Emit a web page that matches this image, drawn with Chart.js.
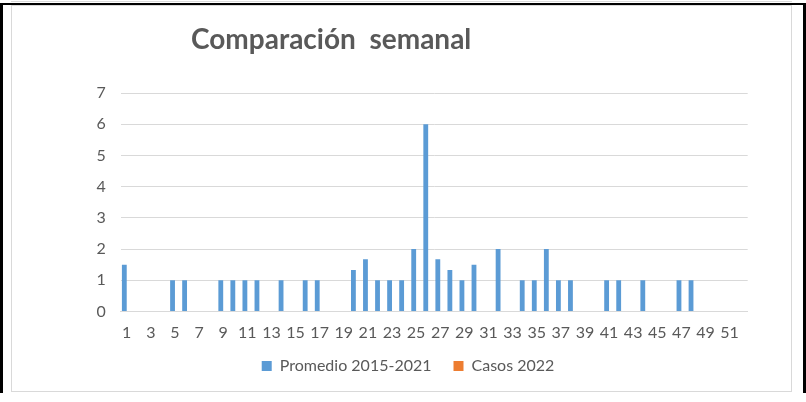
<!DOCTYPE html>
<html>
<head>
<meta charset="utf-8">
<script src="https://cdn.jsdelivr.net/npm/chart.js@4/dist/chart.umd.min.js"></script>
<style>
  html, body { margin: 0; padding: 0; background: #fff; }
  #page { position: relative; width: 806px; height: 402px; overflow: hidden; background: #fff; }
  #frame { position: absolute; left: 0; top: 3px; width: 806px; height: 390px; box-sizing: border-box;
           border-left: 3px solid #000; border-right: 3px solid #000; border-top: 2px solid #000; }
  #topline { position: absolute; left: 11px; top: 1px; width: 781px; height: 1px; background: #D9D9D9; }
  #box { position: absolute; left: 11px; top: 5px; width: 781px; height: 387px; box-sizing: border-box;
         border: 1px solid #D9D9D9; background: #fff; }
  #c { position: absolute; left: 0; top: 0; }
</style>
</head>
<body>
<div id="page">
  <div id="topline"></div>
  <div id="frame"></div>
  <div id="box"><canvas id="c" width="779" height="385"></canvas></div>
</div>
<script>
const chartTitle = "Comparación  semanal";
const seriesNames = ["Promedio 2015-2021", "Casos 2022"];
const weeks = Array.from({length: 52}, (_, i) => String(i + 1));
const promedio = [
  1.5, 0, 0, 0, 1, 1, 0, 0, 1, 1,
  1, 1, 0, 1, 0, 1, 1, 0, 0, 1.33,
  1.67, 1, 1, 1, 2, 6, 1.67, 1.33, 1, 1.5,
  0, 2, 0, 1, 1, 2, 1, 1, 0, 0,
  1, 1, 0, 1, 0, 0, 1, 1, 0, 0,
  0, 0
];
const casos2022 = new Array(52).fill(0);
const yTicks = [0, 1, 2, 3, 4, 5, 6, 7];

const titlePlugin = {
  id: 'customTitle',
  afterLayout(chart) {
    if (chart.legend) {
      chart.legend.top -= 7;
      chart.legend.bottom -= 7;
    }
  },
  afterDraw(chart) {
    const ctx = chart.ctx;
    ctx.save();
    ctx.font = 'bold 28px Lato';
    ctx.fillStyle = '#595959';
    ctx.textAlign = 'left';
    ctx.textBaseline = 'alphabetic';
    ctx.fillText(chartTitle, 179, 43);
    ctx.restore();
  }
};

new Chart(document.getElementById('c'), {
  type: 'bar',
  data: {
    labels: weeks,
    datasets: [
      { label: seriesNames[0], data: promedio, backgroundColor: '#5B9BD5', borderWidth: 0 },
      { label: seriesNames[1], data: casos2022, backgroundColor: '#ED7D31', borderWidth: 0 }
    ]
  },
  options: {
    responsive: false,
    animation: false,
    devicePixelRatio: 1,
    layout: { padding: { left: 13, right: 0, top: 87, bottom: 0 } },
    datasets: { bar: { categoryPercentage: 0.8, barPercentage: 1.0 } },
    plugins: {
      title: { display: false },
      tooltip: { enabled: false },
      legend: {
        display: true,
        position: 'bottom',
        labels: {
          color: '#595959',
          font: { family: 'Lato', size: 16 },
          boxWidth: 10,
          boxHeight: 10,
          padding: 22
        }
      }
    },
    scales: {
      x: {
        grid: { display: false, drawTicks: false },
        border: { display: true, color: '#D9D9D9', width: 1 },
        ticks: {
          color: '#595959',
          font: { family: 'Lato', size: 16 },
          autoSkip: false,
          maxRotation: 0,
          minRotation: 0,
          padding: 12,
          callback: function(v, i) { return i % 2 === 0 ? weeks[i] : ''; }
        },
        afterFit(scale) { scale.height = 31.5; }
      },
      y: {
        min: 0,
        max: 7,
        grid: { color: '#D9D9D9', lineWidth: 1, drawTicks: false },
        border: { display: false },
        afterBuildTicks(scale) { scale.ticks = yTicks.map(v => ({ value: v })); },
        ticks: {
          color: '#595959',
          font: { family: 'Lato', size: 16 },
          padding: 15
        },
        afterFit(scale) { scale.width = 95.7; }
      },
      yr: {
        type: 'linear',
        position: 'right',
        display: true,
        grid: { display: false, drawTicks: false },
        border: { display: false },
        ticks: { display: false },
        afterFit(scale) { scale.width = 43.3; }
      }
    }
  },
  plugins: [titlePlugin]
});
</script>
</body>
</html>
